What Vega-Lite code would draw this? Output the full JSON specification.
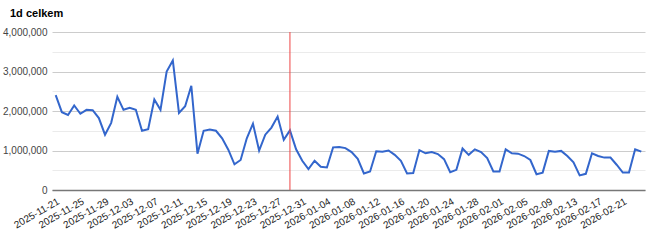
{
  "$schema": "https://vega.github.io/schema/vega-lite/v6.json",
  "autosize": {"type": "none"},
  "width": 593,
  "height": 158,
  "padding": {"left": 52, "top": 32, "right": 5, "bottom": 54},
  "background": "white",
  "title": {"text": "1d celkem", "anchor": "start", "frame": "group", "dx": -42, "offset": 8, "font": "Liberation Sans", "fontSize": 11, "fontWeight": "bold", "color": "#000"},
  "config": {"view": {"stroke": null}},
  "datasets": {
    "main": [
      {"date": "2025-11-21", "v": 2400000}, {"date": "2025-11-22", "v": 1970000}, {"date": "2025-11-23", "v": 1900000}, {"date": "2025-11-24", "v": 2140000},
      {"date": "2025-11-25", "v": 1930000}, {"date": "2025-11-26", "v": 2030000}, {"date": "2025-11-27", "v": 2020000}, {"date": "2025-11-28", "v": 1820000},
      {"date": "2025-11-29", "v": 1400000}, {"date": "2025-11-30", "v": 1700000}, {"date": "2025-12-01", "v": 2360000}, {"date": "2025-12-02", "v": 2030000},
      {"date": "2025-12-03", "v": 2080000}, {"date": "2025-12-04", "v": 2030000}, {"date": "2025-12-05", "v": 1500000}, {"date": "2025-12-06", "v": 1540000},
      {"date": "2025-12-07", "v": 2290000}, {"date": "2025-12-08", "v": 2030000}, {"date": "2025-12-09", "v": 3000000}, {"date": "2025-12-10", "v": 3280000},
      {"date": "2025-12-11", "v": 1950000}, {"date": "2025-12-12", "v": 2120000}, {"date": "2025-12-13", "v": 2640000}, {"date": "2025-12-14", "v": 920000},
      {"date": "2025-12-15", "v": 1500000}, {"date": "2025-12-16", "v": 1530000}, {"date": "2025-12-17", "v": 1500000}, {"date": "2025-12-18", "v": 1310000},
      {"date": "2025-12-19", "v": 1020000}, {"date": "2025-12-20", "v": 650000}, {"date": "2025-12-21", "v": 760000}, {"date": "2025-12-22", "v": 1310000},
      {"date": "2025-12-23", "v": 1680000}, {"date": "2025-12-24", "v": 1000000}, {"date": "2025-12-25", "v": 1400000}, {"date": "2025-12-26", "v": 1580000},
      {"date": "2025-12-27", "v": 1860000}, {"date": "2025-12-28", "v": 1270000}, {"date": "2025-12-29", "v": 1510000}, {"date": "2025-12-30", "v": 1030000},
      {"date": "2025-12-31", "v": 740000}, {"date": "2026-01-01", "v": 530000}, {"date": "2026-01-02", "v": 740000}, {"date": "2026-01-03", "v": 590000},
      {"date": "2026-01-04", "v": 570000}, {"date": "2026-01-05", "v": 1080000}, {"date": "2026-01-06", "v": 1090000}, {"date": "2026-01-07", "v": 1060000},
      {"date": "2026-01-08", "v": 960000}, {"date": "2026-01-09", "v": 790000}, {"date": "2026-01-10", "v": 420000}, {"date": "2026-01-11", "v": 470000},
      {"date": "2026-01-12", "v": 980000}, {"date": "2026-01-13", "v": 970000}, {"date": "2026-01-14", "v": 1000000}, {"date": "2026-01-15", "v": 890000},
      {"date": "2026-01-16", "v": 740000}, {"date": "2026-01-17", "v": 420000}, {"date": "2026-01-18", "v": 430000}, {"date": "2026-01-19", "v": 1010000},
      {"date": "2026-01-20", "v": 930000}, {"date": "2026-01-21", "v": 960000}, {"date": "2026-01-22", "v": 910000}, {"date": "2026-01-23", "v": 780000},
      {"date": "2026-01-24", "v": 450000}, {"date": "2026-01-25", "v": 510000}, {"date": "2026-01-26", "v": 1050000}, {"date": "2026-01-27", "v": 890000},
      {"date": "2026-01-28", "v": 1030000}, {"date": "2026-01-29", "v": 960000}, {"date": "2026-01-30", "v": 810000}, {"date": "2026-01-31", "v": 470000},
      {"date": "2026-02-01", "v": 470000}, {"date": "2026-02-02", "v": 1030000}, {"date": "2026-02-03", "v": 930000}, {"date": "2026-02-04", "v": 920000},
      {"date": "2026-02-05", "v": 860000}, {"date": "2026-02-06", "v": 760000}, {"date": "2026-02-07", "v": 400000}, {"date": "2026-02-08", "v": 440000},
      {"date": "2026-02-09", "v": 990000}, {"date": "2026-02-10", "v": 970000}, {"date": "2026-02-11", "v": 990000}, {"date": "2026-02-12", "v": 860000},
      {"date": "2026-02-13", "v": 700000}, {"date": "2026-02-14", "v": 370000}, {"date": "2026-02-15", "v": 410000}, {"date": "2026-02-16", "v": 930000},
      {"date": "2026-02-17", "v": 860000}, {"date": "2026-02-18", "v": 820000}, {"date": "2026-02-19", "v": 820000}, {"date": "2026-02-20", "v": 640000},
      {"date": "2026-02-21", "v": 440000}, {"date": "2026-02-22", "v": 440000}, {"date": "2026-02-23", "v": 1030000}, {"date": "2026-02-24", "v": 970000}
    ],
    "marker": [{"date": "2025-12-29"}]
  },
  "layer": [
    {
      "data": {"name": "main"},
      "mark": {"type": "line", "color": "#3366cc", "strokeWidth": 2},
      "encoding": {
        "x": {
          "field": "date", "type": "ordinal", "sort": null,
          "scale": {"type": "point", "padding": 0.6},
          "axis": {
            "title": null,
            "values": ["2025-11-21","2025-11-25","2025-11-29","2025-12-03","2025-12-07","2025-12-11","2025-12-15","2025-12-19","2025-12-23","2025-12-27","2025-12-31","2026-01-04","2026-01-08","2026-01-12","2026-01-16","2026-01-20","2026-01-24","2026-01-28","2026-02-01","2026-02-05","2026-02-09","2026-02-13","2026-02-17","2026-02-21"],
            "labelAngle": -30, "labelAlign": "right", "labelBaseline": "top",
            "labelFont": "Liberation Sans", "labelFontSize": 10, "labelColor": "#222",
            "labelPadding": 6, "ticks": false, "grid": false,
            "domainColor": "#777", "domainWidth": 1.5, "labelOverlap": false
          }
        },
        "y": {
          "field": "v", "type": "quantitative",
          "scale": {"domain": [0, 4000000], "nice": false},
          "axis": {
            "title": null,
            "values": [0, 500000, 1000000, 1500000, 2000000, 2500000, 3000000, 3500000, 4000000],
            "labelExpr": "datum.value % 1000000 === 0 ? format(datum.value, ',') : ''",
            "labelFont": "Liberation Sans", "labelFontSize": 10, "labelColor": "#444",
            "labelPadding": 5, "ticks": false, "domain": false,
            "gridColor": {"condition": {"test": "datum.value % 1000000 === 0", "value": "#cccccc"}, "value": "#ebebeb"}
          }
        }
      }
    },
    {
      "data": {"name": "marker"},
      "mark": {"type": "rule", "color": "#ee4444", "strokeWidth": 1},
      "encoding": {"x": {"field": "date", "type": "ordinal"}}
    }
  ]
}
